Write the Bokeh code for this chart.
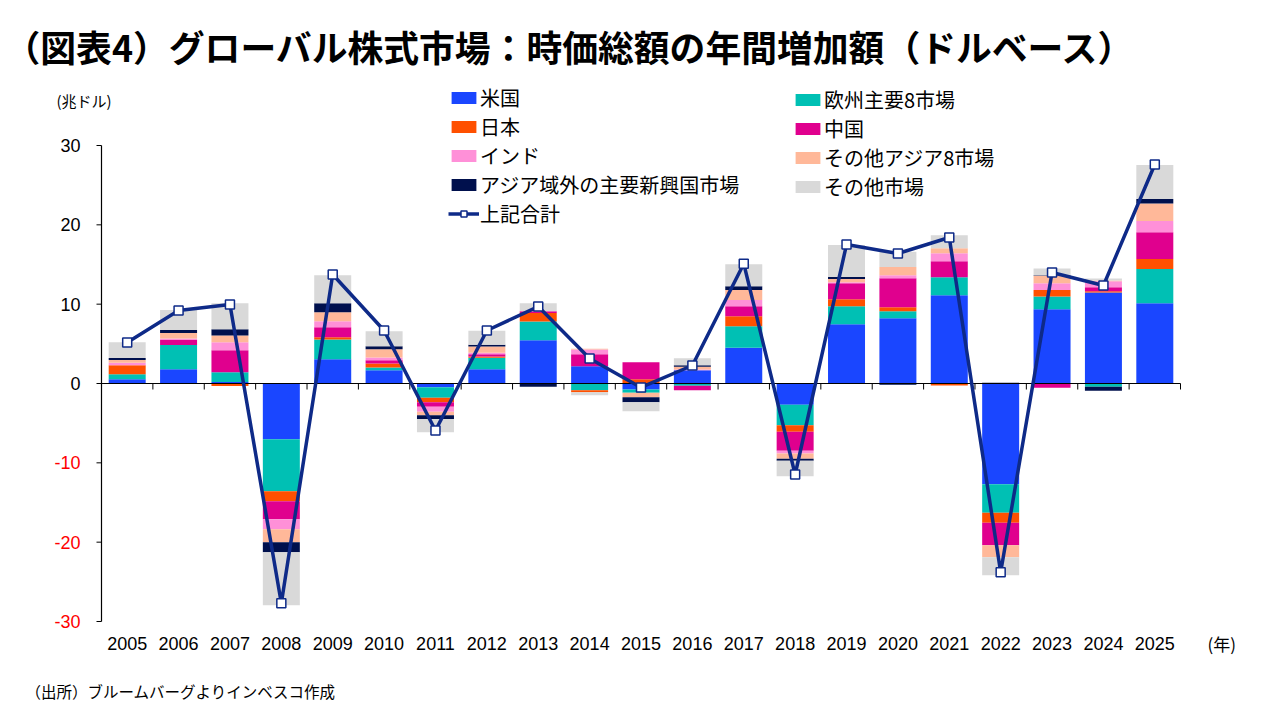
import numpy as np
from bokeh.plotting import figure
from bokeh.models import Label, Legend, LegendItem, Range1d
from bokeh.core.properties import value
from bokeh.embed import file_html
from bokeh.resources import INLINE

# ---- data (trillion USD) ----
years = [str(y) for y in range(2005, 2026)]
us         = [0.55, 1.81, 0.20, -7.02, 3.07, 1.68, -0.46, 1.81, 5.46, 2.18, -0.76, 1.68, 4.50, -2.69, 7.48, 8.24, 11.13, -12.69, 9.37, 11.47, 10.13]
europe     = [0.63, 3.03, 1.22, -6.55, 2.48, 0.34, -1.34, 1.43, 2.35, -0.84, -0.42, -0.29, 2.73, -2.56, 2.27, 0.88, 2.27, -3.61, 1.60, -0.42, 4.29]
japan      = [1.13, 0.00, -0.30, -1.26, 0.29, 0.50, -0.55, 0.15, 1.09, -0.25, 0.55, 0.00, 1.26, -0.84, 0.88, 0.50, -0.25, -1.26, 0.80, 0.17, 1.26]
china      = [0.00, 0.63, 2.77, -2.27, 1.26, 0.42, -0.59, 0.30, 0.20, 1.51, 2.14, -0.55, 1.26, -2.40, 2.02, 3.66, 2.02, -2.82, -0.55, 0.50, 3.40]
india      = [0.30, 0.21, 1.01, -1.26, 0.76, 0.34, -0.63, 0.20, 0.00, 0.59, 0.00, 0.10, 0.76, -0.34, 0.10, 0.38, 1.01, 0.00, 0.88, 0.76, 1.39]
other_asia = [0.34, 0.67, 0.84, -1.64, 1.13, 1.05, -0.42, 0.76, 0.00, 0.10, -0.55, 0.34, 1.26, -0.67, 0.42, 1.01, 0.63, -1.51, 0.92, 0.08, 2.23]
em_ex_asia = [0.25, 0.38, 0.80, -1.26, 1.13, 0.38, -0.50, 0.25, -0.42, 0.00, -0.63, 0.17, 0.50, -0.25, 0.25, -0.15, 0.00, 0.10, 0.08, -0.50, 0.55]
other      = [2.00, 2.52, 3.28, -6.68, 3.53, 1.89, -1.64, 1.76, 1.01, -0.38, -1.13, 0.88, 2.77, -1.93, 4.03, 1.93, 1.64, -2.27, 0.84, 0.25, 4.29]
total      = [5.17, 9.20, 9.96, -27.70, 13.74, 6.68, -5.92, 6.68, 9.70, 3.15, -0.50, 2.27, 15.10, -11.47, 17.52, 16.39, 18.40, -23.80, 13.99, 12.35, 27.60]

series_names = ["米国", "欧州主要8市場", "日本", "中国", "インド", "その他アジア8市場",
                "アジア域外の主要新興国市場", "その他市場"]
total_name = "上記合計"
y_ticks = [-30, -20, -10, 0, 10, 20, 30]
y_tick_labels = ["-30", "-20", "-10", "0", "10", "20", "30"]

title_text = "（図表4）グローバル株式市場：時価総額の年間増加額（ドルベース）"
unit_text = "(兆ドル)"
year_unit_text = "(年)"
source_text = "（出所）ブルームバーグよりインベスコ作成"

# ---- styles / layout ----
colors = ["#1A46FF", "#00C0B4", "#FF5000", "#E0008E", "#FF90D8", "#FFB899", "#00104D", "#D9D9D9"]
navy = "#0E2A88"
JP = "Noto Sans CJK JP"
NUM = "Liberation Sans"
W, H = 1280, 720
AREA_L, AREA_R, AREA_T, AREA_B = 101, 1180, 145, 621   # plot area in canvas pixels

n = len(years)
xs = np.arange(n)
x0, x1 = -0.5, n - 0.5
y0, y1 = min(y_ticks), max(y_ticks)
xpp = (x1 - x0) / (AREA_R - AREA_L)
ypp = (y1 - y0) / (AREA_B - AREA_T)

p = figure(width=W, height=H,
           x_range=Range1d(x0 - AREA_L * xpp, x1 + (W - AREA_R) * xpp),
           y_range=Range1d(y0 - (H - AREA_B) * ypp, y1 + AREA_T * ypp),
           output_backend="svg", toolbar_location=None, title=None,
           x_axis_location=None, y_axis_location=None,
           min_border=0, min_border_left=0, min_border_right=0, min_border_top=0, min_border_bottom=0)
p.outline_line_color = None
p.xgrid.visible = False
p.ygrid.visible = False
p.background_fill_color = "white"
p.border_fill_color = "white"

# stacked bars: positives and negatives stacked separately
pos = np.zeros(n)
neg = np.zeros(n)
bar_renderers = []
for vals, col in zip([us, europe, japan, china, india, other_asia, em_ex_asia, other], colors):
    v = np.array(vals, dtype=float)
    bottom = np.where(v >= 0, pos, neg + v)
    top = np.where(v >= 0, pos + v, neg)
    pos = pos + np.clip(v, 0, None)
    neg = neg + np.clip(v, None, 0)
    r = p.vbar(x=xs, bottom=bottom, top=top, width=0.72, fill_color=col, line_color=None)
    bar_renderers.append(r)

# y axis (line, ticks, labels)
yt = np.array(y_ticks, dtype=float)
p.segment(x0=[x0], y0=[y0], x1=[x0], y1=[y1], line_color="black", line_width=1.2)
p.segment(x0=np.full(len(yt), x0 - 5 * xpp), y0=yt, x1=np.full(len(yt), x0), y1=yt,
          line_color="black", line_width=1)
p.text(x=np.full(len(yt), x0), y=yt, text=y_tick_labels, x_offset=-21,
       text_align="right", text_baseline="middle", text_font=value(NUM), text_font_size="18px",
       text_color=["red" if t < 0 else "black" for t in y_ticks])

# x axis line at zero with category boundary ticks
bounds = xs + 0.5
p.segment(x0=[x0], y0=[0], x1=[x1], y1=[0], line_color="black", line_width=1.2)
p.segment(x0=bounds, y0=np.zeros(n), x1=bounds, y1=np.full(n, -6 * ypp), line_color="black", line_width=1)
p.text(x=xs, y=np.full(n, y0), text=years, y_offset=22, text_align="center", text_baseline="middle",
       text_font=value(NUM), text_font_size="18px", text_color="black")

# total line
lr = p.line(xs, total, line_color=navy, line_width=3.5)
sr = p.scatter(xs, total, marker="square", size=9, fill_color="white", line_color=navy, line_width=1.5)

# texts
p.add_layout(Label(x=x0, y=y1, x_offset=-97, y_offset=100, text=title_text,
                   text_font=JP, text_font_size="35.8px", text_font_style="bold",
                   text_baseline="middle", text_color="black"))
p.add_layout(Label(x=x0, y=y1, x_offset=-45, y_offset=45, text=unit_text,
                   text_font=JP, text_font_size="15px", text_baseline="middle", text_color="black"))
p.add_layout(Label(x=x1, y=y0, x_offset=27, y_offset=-22, text=year_unit_text,
                   text_font=JP, text_font_size="17px", text_baseline="middle", text_color="black"))
p.add_layout(Label(x=x0, y=y0, x_offset=-76, y_offset=-69, text=source_text,
                   text_font=JP, text_font_size="15.5px", text_baseline="middle", text_color="black"))

# legends (two columns)
def make_legend(items, loc):
    lg = Legend(items=items, location=loc, orientation="vertical")
    lg.label_text_font = JP
    lg.label_text_font_size = "20px"
    lg.label_text_color = "black"
    lg.glyph_width = 31
    lg.glyph_height = 15
    lg.label_standoff = 1
    lg.label_height = 20
    lg.spacing = -1
    lg.padding = 0
    lg.margin = 0
    lg.border_line_color = None
    lg.background_fill_alpha = 0
    return lg

col1 = [LegendItem(label=series_names[0], renderers=[bar_renderers[0]]),
        LegendItem(label=series_names[2], renderers=[bar_renderers[2]]),
        LegendItem(label=series_names[4], renderers=[bar_renderers[4]]),
        LegendItem(label=series_names[6], renderers=[bar_renderers[6]]),
        LegendItem(label=total_name, renderers=[lr, sr])]
col2 = [LegendItem(label=series_names[1], renderers=[bar_renderers[1]]),
        LegendItem(label=series_names[3], renderers=[bar_renderers[3]]),
        LegendItem(label=series_names[5], renderers=[bar_renderers[5]]),
        LegendItem(label=series_names[7], renderers=[bar_renderers[7]])]
p.add_layout(make_legend(col1, (448, 492)), "center")
p.add_layout(make_legend(col2, (792, 519)), "center")

open("out.html", "w").write(file_html(p, INLINE))
